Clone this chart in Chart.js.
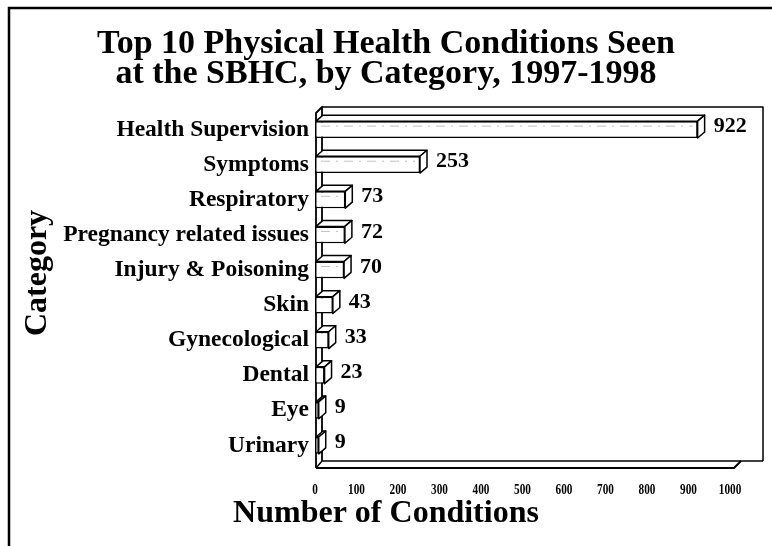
<!DOCTYPE html>
<html>
<head>
<meta charset="utf-8">
<script src="https://cdn.jsdelivr.net/npm/chart.js@4/dist/chart.umd.min.js"></script>
<style>
  html, body { margin: 0; padding: 0; background: #fff; }
  canvas { display: block; }
</style>
</head>
<body>
<canvas id="c" width="772" height="546"></canvas>
<script>
// Categories, counts and axis ticks
const categories = [
  'Health Supervision', 'Symptoms', 'Respiratory', 'Pregnancy related issues',
  'Injury & Poisoning', 'Skin', 'Gynecological', 'Dental', 'Eye', 'Urinary'
];
const counts = [922, 253, 73, 72, 70, 43, 33, 23, 9, 9];
const xTickValues = [0, 100, 200, 300, 400, 500, 600, 700, 800, 900, 1000];

const titleLines = ['Top 10 Physical Health Conditions Seen', 'at the SBHC, by Category, 1997-1998'];
const xTitle = 'Number of Conditions';
const yTitle = 'Category';

const SERIF = "'Liberation Serif', 'Times New Roman', serif";
const DX = 7, DY = 6; // depth offset of the pseudo-3D drawing

const boxPlugin = {
  id: 'box3d',
  // white page, frame and headings
  beforeDraw(chart) {
    const ctx = chart.ctx;
    ctx.save();
    ctx.fillStyle = '#fff';
    ctx.fillRect(0, 0, chart.width, chart.height);
    ctx.strokeStyle = '#000';
    ctx.lineWidth = 2.5;
    ctx.beginPath();
    ctx.moveTo(9, chart.height);
    ctx.lineTo(9, 8);
    ctx.lineTo(chart.width, 8);
    ctx.stroke();

    const cx = 386;
    ctx.fillStyle = '#000';
    ctx.textAlign = 'center';
    ctx.textBaseline = 'alphabetic';
    ctx.font = 'bold 34px ' + SERIF;
    ctx.fillText(titleLines[0], cx, 53);
    ctx.fillText(titleLines[1], cx, 83);

    ctx.font = 'bold 32px ' + SERIF;
    ctx.fillText(xTitle, cx, 522);

    ctx.save();
    ctx.translate(38, 273);
    ctx.rotate(-Math.PI / 2);
    ctx.textBaseline = 'middle';
    ctx.fillText(yTitle, 0, 0);
    ctx.restore();

    // narrow tick numbers under the floor, placed by the x scale
    const xs = chart.scales.x;
    ctx.font = 'bold 15px ' + SERIF;
    ctx.textBaseline = 'middle';
    xTickValues.forEach(v => {
      ctx.save();
      ctx.translate(xs.getPixelForValue(v), 490);
      ctx.scale(0.75, 1);
      ctx.fillText(String(v), 0, 0);
      ctx.restore();
    });
    ctx.restore();
  },
  // back wall, left wall and floor
  beforeDatasetsDraw(chart) {
    const ctx = chart.ctx;
    const a = chart.chartArea;
    const xs = chart.scales.x;
    const x0 = xs.getPixelForValue(0) + 1;
    const xEnd = xs.getPixelForValue(1000) + 4;
    const top = a.top, bot = a.bottom + 5;
    const wallRight = a.right + 33;
    ctx.save();
    ctx.strokeStyle = '#000';
    ctx.lineWidth = 1.5;
    ctx.lineJoin = 'round';
    ctx.beginPath();
    ctx.moveTo(x0 + 6, top - 5);
    ctx.lineTo(wallRight, top - 5);
    ctx.lineTo(wallRight, bot - 7);
    ctx.stroke();
    ctx.lineWidth = 1.8;
    ctx.beginPath();
    ctx.moveTo(x0, bot);
    ctx.lineTo(x0, top + 1);
    ctx.lineTo(x0 + 6, top - 5);
    ctx.lineTo(x0 + 6, bot - 7);
    ctx.stroke();
    ctx.lineWidth = 2;
    ctx.beginPath();
    ctx.moveTo(x0, bot);
    ctx.lineTo(xEnd, bot);
    ctx.lineTo(xEnd + 7, bot - 7);
    ctx.stroke();
    ctx.lineWidth = 1.5;
    ctx.beginPath();
    ctx.moveTo(x0 + 6, bot - 7);
    ctx.lineTo(wallRight, bot - 7);
    ctx.moveTo(x0, bot);
    ctx.lineTo(x0 + 6, bot - 7);
    ctx.stroke();
    ctx.restore();
  },
  // top and end faces of each bar, plus its value
  afterDatasetsDraw(chart) {
    const ctx = chart.ctx;
    const meta = chart.getDatasetMeta(0);
    ctx.save();
    ctx.strokeStyle = '#000';
    ctx.lineWidth = 1.5;
    ctx.lineJoin = 'round';
    meta.data.forEach((bar, i) => {
      const p = bar.getProps(['x', 'y', 'base', 'height'], true);
      const xv = p.x, xb = p.base + 1;
      const yT = p.y - p.height / 2, yB = p.y + p.height / 2;
      ctx.fillStyle = '#fff';
      ctx.beginPath();
      ctx.moveTo(xb, yT);
      ctx.lineTo(xb + DX, yT - DY);
      ctx.lineTo(xv + DX, yT - DY);
      ctx.lineTo(xv, yT);
      ctx.closePath();
      ctx.fill();
      ctx.stroke();
      ctx.beginPath();
      ctx.moveTo(xv, yT);
      ctx.lineTo(xv + DX, yT - DY);
      ctx.lineTo(xv + DX, yB - DY);
      ctx.lineTo(xv, yB);
      ctx.closePath();
      ctx.fill();
      ctx.stroke();
      if (xv - xb > 20) {
        ctx.save();
        ctx.strokeStyle = '#b0b0b0';
        ctx.lineWidth = 0.8;
        ctx.setLineDash([9, 6, 2, 6]);
        ctx.beginPath();
        ctx.moveTo(xb + 5, yT + 5);
        ctx.lineTo(xv - 5, yT + 5);
        ctx.stroke();
        ctx.restore();
      }
      ctx.fillStyle = '#000';
      ctx.font = 'bold 22px ' + SERIF;
      ctx.textAlign = 'left';
      ctx.textBaseline = 'middle';
      ctx.fillText(String(counts[i]), xv + DX + 9, p.y - 3);
    });
    ctx.restore();
  }
};

new Chart(document.getElementById('c'), {
  type: 'bar',
  data: {
    labels: categories,
    datasets: [{
      data: counts,
      backgroundColor: '#fff',
      borderColor: '#000',
      borderWidth: 1.5,
      borderSkipped: false,
      categoryPercentage: 1,
      barPercentage: 0.48
    }]
  },
  options: {
    indexAxis: 'y',
    responsive: false,
    animation: false,
    layout: { padding: { left: 20, right: 42, top: 112, bottom: 0 } },
    plugins: {
      legend: { display: false },
      tooltip: { enabled: false },
      title: { display: false }
    },
    scales: {
      x: {
        type: 'linear',
        min: 0,
        max: 1000,
        afterBuildTicks(scale) { scale.ticks = xTickValues.map(v => ({ value: v })); },
        ticks: { display: false },
        grid: { display: false, drawTicks: false },
        border: { display: false },
        afterFit(scale) { scale.height = 83; }
      },
      y: {
        type: 'category',
        ticks: { color: '#000', font: { family: SERIF, weight: 'bold', size: 23.5 }, padding: 6 },
        grid: { display: false, drawTicks: false },
        border: { display: false },
        afterFit(scale) { scale.width = 295; }
      }
    }
  },
  plugins: [boxPlugin]
});
</script>
</body>
</html>
